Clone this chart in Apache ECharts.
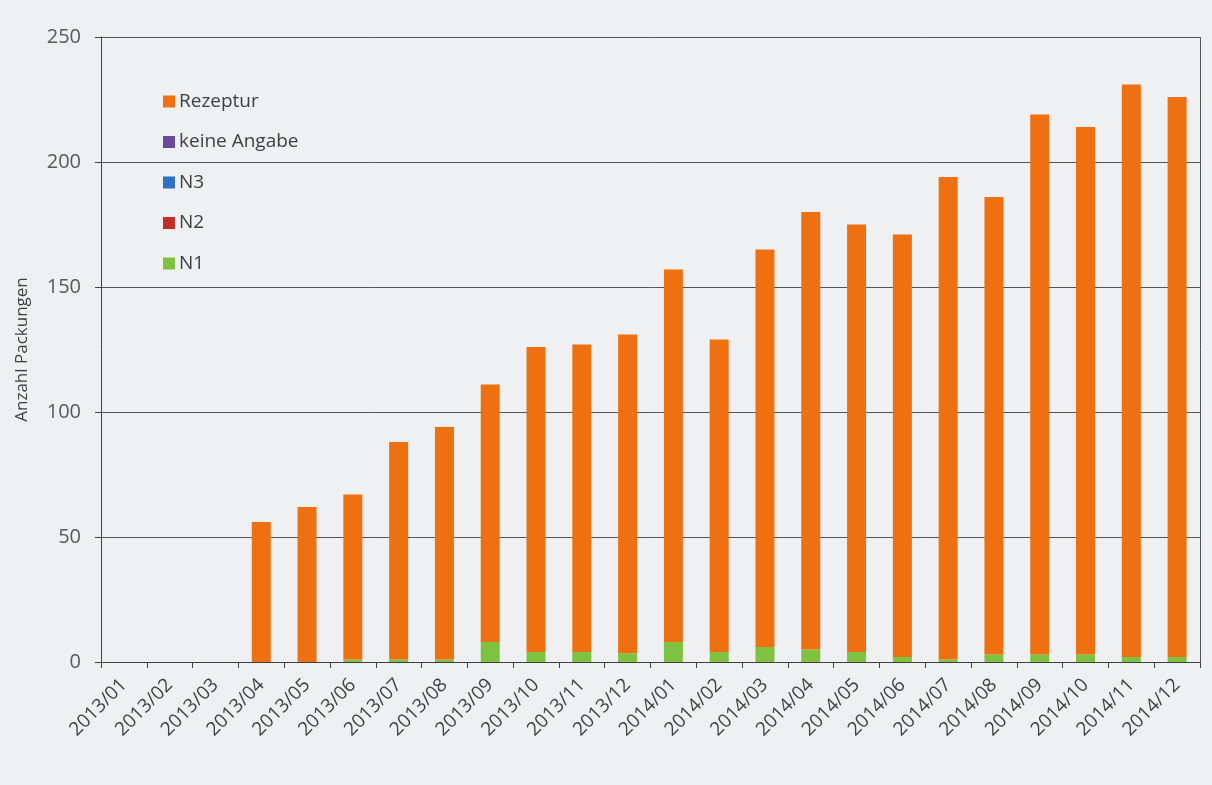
<!DOCTYPE html>
<html>
<head>
<meta charset="utf-8">
<script src="https://cdn.jsdelivr.net/npm/echarts@6/dist/echarts.min.js"></script>
<style>
html,body{margin:0;padding:0;background:#eef0f1;}
#chart{width:1212px;height:785px;}
</style>
</head>
<body>
<div id="chart"></div>
<script>
const categories = ['2013/01','2013/02','2013/03','2013/04','2013/05','2013/06','2013/07','2013/08','2013/09','2013/10','2013/11','2013/12',
  '2014/01','2014/02','2014/03','2014/04','2014/05','2014/06','2014/07','2014/08','2014/09','2014/10','2014/11','2014/12'];
const n1 = [0,0,0,0,0,1,1,1,8,4,4,3.5,8,4,6,5,4,2,1,3,3,3,2,2];
const n2 = [0,0,0,0,0,0,0,0,0,0,0,0,0,0,0,0,0,0,0,0,0,0,0,0];
const n3 = [0,0,0,0,0,0,0,0,0,0,0,0,0,0,0,0,0,0,0,0,0,0,0,0];
const keineAngabe = [0,0,0,0,0,0,0,0,0,0,0,0,0,0,0,0,0,0,0,0,0,0,0,0];
const totals = [0,0,0,56,62,67,88,94,111,126,127,131,157,129,165,180,175,171,194,186,219,214,231,226];
const rezeptur = totals.map((t,i)=>+(t - n1[i] - n2[i] - n3[i] - keineAngabe[i]).toFixed(1));
const yTicks = [0,50,100,150,200,250];

const chart = echarts.init(document.getElementById('chart'));
const font = 'Open Sans, Liberation Sans, sans-serif';
function bar(name, data, color){
  return {name, type:'bar', stack:'s', data, barWidth:19, itemStyle:{color}, emphasis:{disabled:true}};
}
chart.setOption({
  backgroundColor:'#eef0f1',
  animation:false,
  grid:{left:101, right:12, top:37, bottom:123, containLabel:false},
  legend:{
    orient:'vertical', left:158, top:87, itemGap:21.5, itemWidth:12, itemHeight:12, icon:'rect',
    data:['Rezeptur','keine Angabe','N3','N2','N1'],
    textStyle:{fontFamily:font, fontSize:19, color:'#404040', padding:[0,0,0,-1]}
  },
  xAxis:{
    type:'category', data:categories,
    axisLine:{lineStyle:{color:'#404040', width:1}},
    axisTick:{show:true, length:6, lineStyle:{color:'#404040'}},
    axisLabel:{rotate:45, interval:0, fontFamily:font, fontSize:19, color:'#404040', margin:20}
  },
  yAxis:{
    type:'value', min:yTicks[0], max:yTicks[yTicks.length-1], interval:50,
    name:'Anzahl Packungen', nameLocation:'middle', nameGap:70,
    nameTextStyle:{fontFamily:font, fontSize:17, color:'#404040'},
    axisLine:{show:true, lineStyle:{color:'#404040'}},
    axisTick:{show:true, length:6, lineStyle:{color:'#404040'}},
    axisLabel:{fontFamily:font, fontSize:20, color:'#595959', margin:20},
    splitLine:{lineStyle:{color:'#555', width:1}}
  },
  graphic:[
    {type:'line', shape:{x1:1200.5,y1:37,x2:1200.5,y2:662}, style:{stroke:'#555', lineWidth:1}}
  ],
  series:[
    bar('N1', n1, '#7fc241'),
    bar('N2', n2, '#c0302b'),
    bar('N3', n3, '#2f72c4'),
    bar('keine Angabe', keineAngabe, '#6a4a9c'),
    bar('Rezeptur', rezeptur, '#ef7010')
  ]
});
</script>
</body>
</html>
